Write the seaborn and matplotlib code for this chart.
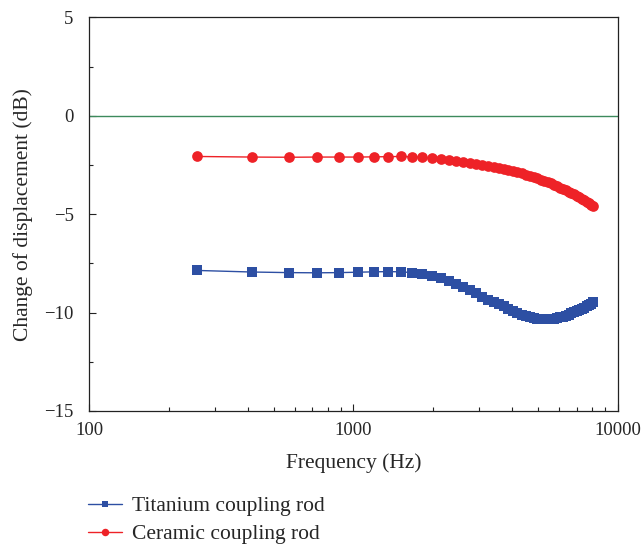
import matplotlib
matplotlib.use("Agg")
import matplotlib.pyplot as plt
import seaborn as sns
import pandas as pd
from matplotlib.ticker import FixedLocator, NullFormatter, LogLocator

freq = [256, 413, 570, 727, 884, 1041, 1198, 1355, 1512, 1669, 1826, 1983, 2140,
        2297, 2454, 2611, 2768, 2925, 3082, 3239, 3396, 3553, 3710, 3867, 4024,
        4181, 4338, 4495, 4652, 4809, 4966, 5123, 5280, 5437, 5594, 5751, 5908,
        6065, 6222, 6379, 6536, 6693, 6850, 7007, 7164, 7321, 7478, 7635, 7792,
        7949, 8106]

titanium = [-7.86, -7.94, -7.97, -7.98, -7.97, -7.95, -7.93, -7.92, -7.93, -7.97,
            -8.03, -8.13, -8.25, -8.39, -8.53, -8.69, -8.85, -9.03, -9.19, -9.34,
            -9.46, -9.57, -9.69, -9.80, -9.93, -10.04, -10.12, -10.19, -10.24, -10.28,
            -10.31, -10.33, -10.34, -10.34, -10.33, -10.31, -10.28, -10.24, -10.20,
            -10.15, -10.10, -10.04, -9.98, -9.92, -9.87, -9.81, -9.75, -9.68, -9.62,
            -9.55, -9.48]

ceramic = [-2.07, -2.10, -2.11, -2.10, -2.10, -2.10, -2.09, -2.08, -2.07, -2.09,
           -2.12, -2.16, -2.20, -2.24, -2.28, -2.33, -2.38, -2.43, -2.48, -2.54,
           -2.59, -2.64, -2.70, -2.76, -2.81, -2.87, -2.93, -2.99, -3.06, -3.12,
           -3.18, -3.25, -3.31, -3.38, -3.44, -3.51, -3.58, -3.65, -3.72, -3.79,
           -3.86, -3.93, -4.00, -4.07, -4.15, -4.22, -4.29, -4.37, -4.44, -4.52,
           -4.60]

labels = ["Titanium coupling rod", "Ceramic coupling rod"]
x_ticks = [100, 1000, 10000]
y_ticks = [-15, -10, -5, 0, 5]

sns.set_style("ticks")
plt.rcParams["font.family"] = ["Liberation Serif", "DejaVu Serif"]

blue = "#2d4fa3"
red = "#ee2227"
green = "#3d8a5c"

fig = plt.figure(figsize=(6.44, 5.44), dpi=100)
ax = fig.add_axes([0.1382, 0.2445, 0.8207, 0.7237])

df_t = pd.DataFrame({"f": freq, "v": titanium})
df_c = pd.DataFrame({"f": freq, "v": ceramic})

ax.axhline(0, color=green, lw=1.0, zorder=1)
sns.lineplot(data=df_t, x="f", y="v", ax=ax, color=blue, lw=1.0, marker="s",
             markersize=6.7, markeredgewidth=0, label=labels[0], zorder=3)
sns.lineplot(data=df_c, x="f", y="v", ax=ax, color=red, lw=1.0, marker="o",
             markersize=7.7, markeredgewidth=0, label=labels[1], zorder=3)

ax.set_xscale("log")
ax.set_xlim(100, 10000)
ax.set_ylim(-15, 5)
ax.xaxis.set_major_locator(FixedLocator(x_ticks))
ax.xaxis.set_minor_locator(LogLocator(base=10, subs=range(2, 10)))
ax.xaxis.set_minor_formatter(NullFormatter())
ax.set_xticklabels([str(t) for t in x_ticks])
ax.yaxis.set_major_locator(FixedLocator(y_ticks))
ax.yaxis.set_minor_locator(FixedLocator([-12.5, -7.5, -2.5, 2.5]))
ax.set_yticklabels(["\u221215", "\u221210", "\u22125", "0", "5"])

ax.tick_params(which="both", direction="in", top=False, right=False,
               labelsize=13.5, color="#222222", width=0.8)
ax.tick_params(which="major", length=5)
ax.tick_params(which="minor", length=3)
ax.tick_params(axis="x", which="major", pad=8)
ax.tick_params(axis="y", which="major", pad=11)
for s in ax.spines.values():
    s.set_linewidth(0.9)
    s.set_color("#222222")

ax.set_xlabel("Frequency (Hz)", fontsize=15.5, labelpad=10)
ax.set_ylabel("Change of displacement (dB)", fontsize=15.5, labelpad=8)

ax.legend(loc="upper left", bbox_to_anchor=(0.1366, 0.088), bbox_transform=fig.transFigure,
          frameon=False, fontsize=15.5, markerscale=0.7, handlelength=1.6,
          handletextpad=0.45, labelspacing=0.38, borderaxespad=0, borderpad=0)

fig.savefig("out.png", dpi=100)
